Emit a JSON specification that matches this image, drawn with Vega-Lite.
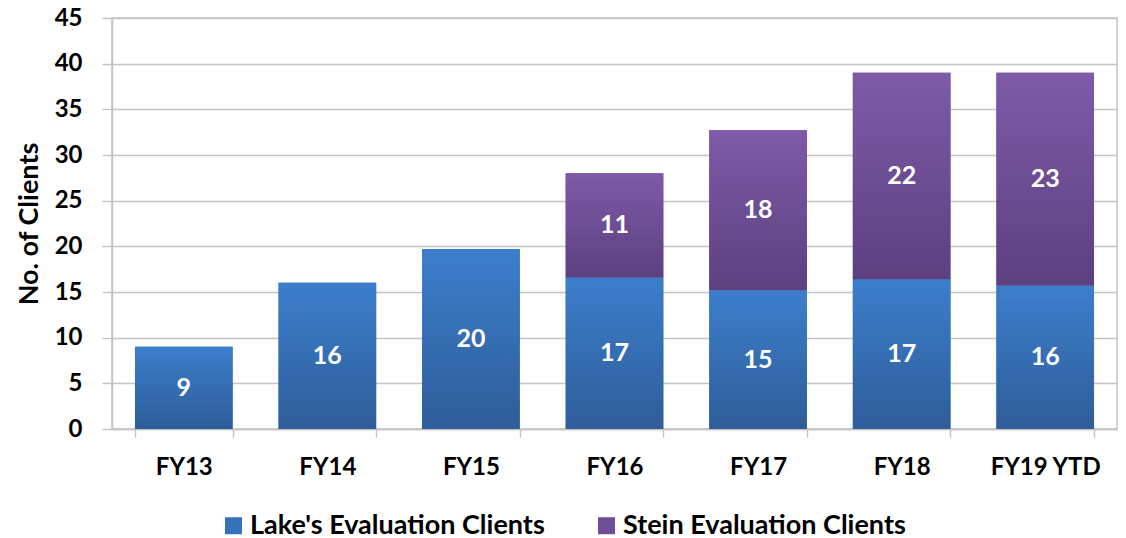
{
  "$schema": "https://vega.github.io/schema/vega-lite/v6.json",
  "width": 1005,
  "height": 411,
  "autosize": {"type": "none"},
  "padding": {"left": 112, "top": 18, "right": 9, "bottom": 109},
  "background": "white",
  "config": {
    "font": "Lato",
    "view": {"stroke": "#c4c4c4", "strokeWidth": 1.5}
  },
  "data": {
    "values": [
      {"year": "FY13", "series": "Lake's Evaluation Clients", "value": 9.0, "label": 9},
      {"year": "FY14", "series": "Lake's Evaluation Clients", "value": 16.0, "label": 16},
      {"year": "FY15", "series": "Lake's Evaluation Clients", "value": 19.7, "label": 20},
      {"year": "FY16", "series": "Lake's Evaluation Clients", "value": 16.6, "label": 17},
      {"year": "FY17", "series": "Lake's Evaluation Clients", "value": 15.2, "label": 15},
      {"year": "FY18", "series": "Lake's Evaluation Clients", "value": 16.4, "label": 17},
      {"year": "FY19 YTD", "series": "Lake's Evaluation Clients", "value": 15.7, "label": 16},
      {"year": "FY16", "series": "Stein Evaluation Clients", "value": 11.4, "label": 11},
      {"year": "FY17", "series": "Stein Evaluation Clients", "value": 17.5, "label": 18},
      {"year": "FY18", "series": "Stein Evaluation Clients", "value": 22.6, "label": 22},
      {"year": "FY19 YTD", "series": "Stein Evaluation Clients", "value": 23.3, "label": 23}
    ]
  },
  "transform": [
    {"stack": "value", "groupby": ["year"], "sort": [{"field": "series", "order": "ascending"}], "as": ["v0", "v1"]},
    {"calculate": "(datum.v0 + datum.v1) / 2", "as": "mid"}
  ],
  "encoding": {
    "x": {
      "field": "year",
      "type": "nominal",
      "sort": ["FY13", "FY14", "FY15", "FY16", "FY17", "FY18", "FY19 YTD"],
      "scale": {"paddingInner": 0.32, "paddingOuter": 0.16},
      "axis": {
        "title": null,
        "labelAngle": 0,
        "labelFont": "Lato",
        "labelFontSize": 24,
        "labelFontWeight": "bold",
        "labelColor": "#000000",
        "labelPadding": 18,
        "tickBand": "extent",
        "tickSize": 8,
        "tickColor": "#c4c4c4",
        "tickWidth": 1.5,
        "domainColor": "#c4c4c4",
        "domainWidth": 1.5
      }
    }
  },
  "layer": [
    {
      "mark": {"type": "bar"},
      "encoding": {
        "y": {
          "field": "v1",
          "type": "quantitative",
          "scale": {"domain": [0, 45], "nice": false},
          "axis": {
            "title": "No. of Clients",
            "titleFont": "Lato",
            "titleFontSize": 27,
            "titleFontWeight": "bold",
            "titleColor": "#000000",
            "titlePadding": 11,
            "values": [0, 5, 10, 15, 20, 25, 30, 35, 40, 45],
            "labelFont": "Lato",
            "labelFontSize": 24,
            "labelFontWeight": "bold",
            "labelColor": "#000000",
            "labelPadding": 20,
            "tickSize": 10,
            "tickColor": "#c4c4c4",
            "tickWidth": 1.5,
            "domainColor": "#c4c4c4",
            "domainWidth": 1.5,
            "gridColor": "#c4c4c4",
            "gridWidth": 1.5
          }
        },
        "y2": {"field": "v0"},
        "color": {
          "field": "series",
          "type": "nominal",
          "scale": {"domain": ["Lake's Evaluation Clients", "Stein Evaluation Clients"], "range": ["#3670B8", "#6F4E98"]},
          "legend": {
            "title": null,
            "orient": "none",
            "direction": "horizontal",
            "legendX": 108,
            "legendY": 494,
            "symbolType": "square",
            "symbolSize": 289,
            "symbolStrokeWidth": 0,
            "labelFont": "Lato",
            "labelFontSize": 27,
            "labelFontWeight": "bold",
            "labelColor": "#000000",
            "labelOffset": 3,
            "columnPadding": 48,
            "labelLimit": 500
          }
        }
      }
    },
    {
      "mark": {"type": "bar"},
      "encoding": {
        "y": {"field": "v1", "type": "quantitative"},
        "y2": {"field": "v0"},
        "fill": {
          "condition": {
            "test": "datum.series == 'Stein Evaluation Clients'",
            "value": {"gradient": "linear", "x1": 0, "y1": 0, "x2": 0, "y2": 1, "stops": [{"offset": 0, "color": "#7E5AA8"}, {"offset": 1, "color": "#5C407F"}]}
          },
          "value": {"gradient": "linear", "x1": 0, "y1": 0, "x2": 0, "y2": 1, "stops": [{"offset": 0, "color": "#3C7ECB"}, {"offset": 1, "color": "#2E5D99"}]}
        }
      }
    },
    {
      "mark": {"type": "text", "color": "white", "font": "Lato", "fontSize": 25, "fontWeight": "bold", "baseline": "middle", "align": "center"},
      "encoding": {
        "y": {"field": "mid", "type": "quantitative"},
        "text": {"field": "label", "type": "quantitative"}
      }
    }
  ]
}
